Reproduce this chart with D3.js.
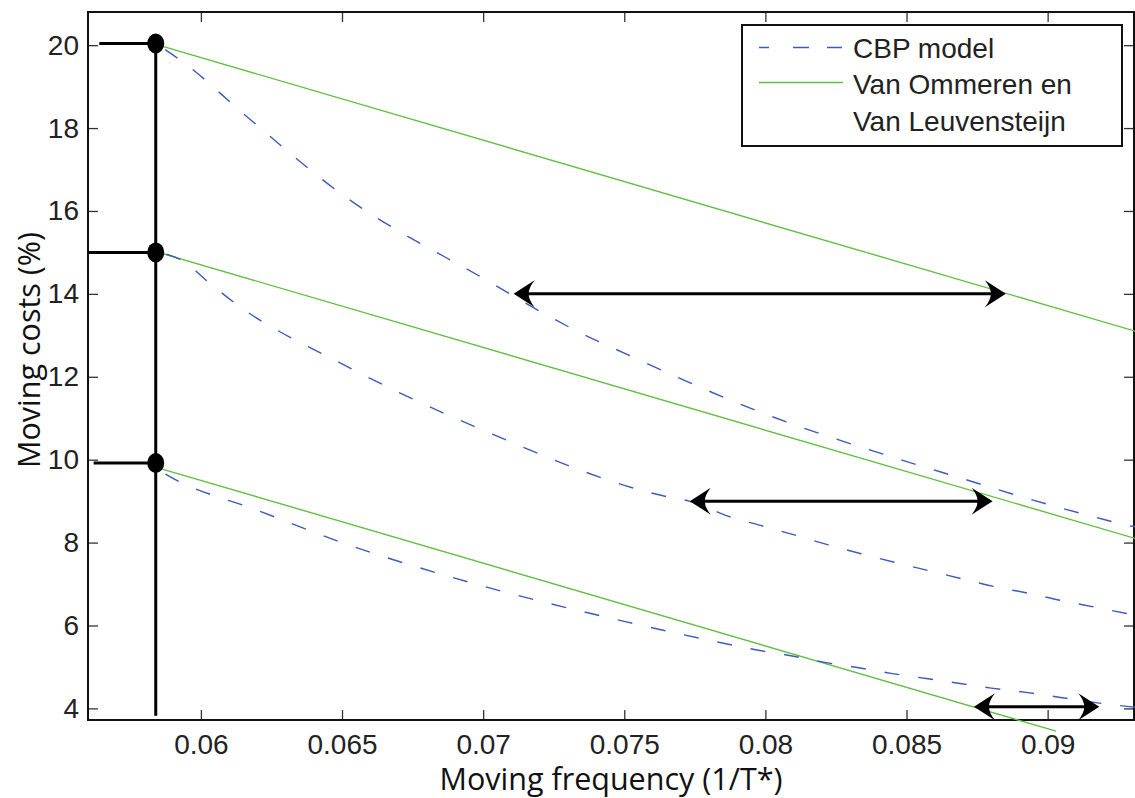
<html>

<head>
    <meta charset="utf-8">
    <style>
        body {
            margin: 0;
            background: white;
        }

        svg {
            display: block;
        }
    </style>
    <script src="https://d3js.org/d3.v7.min.js"></script>
</head>

<body>
    <svg id="Chart"></svg>
</body>

<script>
    // DATA
    let xTicks = [0.06, 0.065, 0.07, 0.075, 0.08, 0.085, 0.09]
    let yTicks = [4, 6, 8, 10, 12, 14, 16, 18, 20]

    // CBP model, one curve per starting cost level
    let cbpHigh = [[0.0585, 20.0], [0.0596, 19.47], [0.0614, 18.41], [0.065, 16.4], [0.0703, 14.26], [0.0723, 13.47],
        [0.0733, 13.11], [0.075, 12.57], [0.08, 11.1], [0.0847, 10.02], [0.087, 9.54], [0.0891, 9.1], [0.0905, 8.83],
        [0.0917, 8.61], [0.0928, 8.42], [0.0931, 8.38]]
    let cbpMid = [[0.0585, 15.0], [0.0594, 14.78], [0.0602, 14.32], [0.0612, 13.78], [0.065, 12.31], [0.07, 10.71],
        [0.0765, 9.11], [0.0773, 9.0], [0.0788, 8.61], [0.0799, 8.4], [0.0811, 8.17], [0.0822, 7.95], [0.0834, 7.73],
        [0.0846, 7.52], [0.0858, 7.32], [0.087, 7.12], [0.0881, 6.94], [0.0893, 6.78], [0.0905, 6.6], [0.0917, 6.44],
        [0.0928, 6.29], [0.0931, 6.25]]
    let cbpLow = [[0.0585, 9.75], [0.0589, 9.59], [0.062, 8.78], [0.065, 8.0], [0.07, 6.95], [0.075, 6.1], [0.0786, 5.56],
        [0.0797, 5.41], [0.0809, 5.27], [0.0821, 5.11], [0.0833, 4.98], [0.0845, 4.84], [0.0857, 4.72], [0.0869, 4.6],
        [0.088, 4.49], [0.0893, 4.38], [0.0904, 4.27], [0.0917, 4.14], [0.0928, 4.05], [0.0931, 4.03]]

    // Van Ommeren en Van Leuvensteijn (straight lines)
    let vomHigh = [[0.0585, 20.0], [0.0931, 13.1]]
    let vomMid = [[0.0585, 15.0], [0.0931, 8.1]]
    let vomLow = [[0.0586, 9.78], [0.0903, 3.45]]

    // starting points (1/T*, cost) and reference lines
    let startX = 0.0584
    let startCosts = [20.04, 15.0, 9.92]
    let guideStartX = [0.0564, 0.056, 0.0562]
    let guideBottom = 3.82

    // horizontal double arrows: [from, to, cost]
    let arrows = [[0.07108, 0.08852, 14.0], [0.07732, 0.08805, 9.0], [0.08739, 0.09183, 4.04]]

    let legendNames = ["CBP model", "Van Ommeren en", "Van Leuvensteijn"]

    let blue = "#3b5bbe"
    let green = "#62c040"

    drawChart()

    function getConfig() {
        let width = 1135
        let height = 798
        let margin = { top: 12, bottom: 78, left: 88, right: 1 }
        let bodyWidth = width - margin.left - margin.right
        let bodyHeight = height - margin.top - margin.bottom
        let container = d3.select("#Chart")
            .attr("width", width)
            .attr("height", height)
        return { width, height, margin, bodyWidth, bodyHeight, container }
    }

    function getScales(config) {
        let { bodyWidth, bodyHeight } = config
        let xScale = d3.scaleLinear()
            .domain([0.056, 0.09306])
            .range([0, bodyWidth])
        let yScale = d3.scaleLinear()
            .domain([3.72, 20.8])
            .range([bodyHeight, 0])
        return { xScale, yScale }
    }

    function drawChart() {
        let config = getConfig()
        let scales = getScales(config)
        let { margin, container } = config
        let body = container.append("g")
            .attr("transform", `translate(${margin.left},${margin.top})`)

        drawAxes(body, scales, config)
        drawCurves(body, scales)
        drawGuides(body, scales)
        drawArrows(body, scales)
        drawLegend(container)
        drawLabels(container, config)
    }

    function drawAxes(body, scales, config) {
        let { xScale, yScale } = scales
        let { bodyWidth, bodyHeight } = config

        let styleAxis = g => {
            g.select(".domain").remove()
            g.selectAll(".tick line").attr("stroke", "#333").attr("stroke-width", 1.3)
            g.selectAll("text")
                .attr("font-family", "'Liberation Sans', Arial, Helvetica, sans-serif")
                .attr("font-size", 28)
                .attr("fill", "#222")
        }

        body.append("g")
            .attr("transform", `translate(0,${bodyHeight})`)
            .call(d3.axisBottom(xScale).tickValues(xTicks).tickFormat(d => String(d))
                .tickSizeInner(-10).tickSizeOuter(0).tickPadding(14))
            .call(styleAxis)

        body.append("g")
            .call(d3.axisTop(xScale).tickValues(xTicks).tickFormat("")
                .tickSizeInner(-10).tickSizeOuter(0))
            .call(styleAxis)

        body.append("g")
            .call(d3.axisLeft(yScale).tickValues(yTicks).tickFormat(d => String(d))
                .tickSizeInner(-10).tickSizeOuter(0).tickPadding(9))
            .call(styleAxis)

        body.append("g")
            .attr("transform", `translate(${bodyWidth},0)`)
            .call(d3.axisRight(yScale).tickValues(yTicks).tickFormat("")
                .tickSizeInner(-10).tickSizeOuter(0))
            .call(styleAxis)

        body.append("rect")
            .attr("width", bodyWidth)
            .attr("height", bodyHeight)
            .attr("fill", "none")
            .attr("stroke", "#111")
            .attr("stroke-width", 2)
    }

    function drawCurves(body, scales) {
        let { xScale, yScale } = scales
        let line = d3.line()
            .x(d => xScale(d[0]))
            .y(d => yScale(d[1]))
            .curve(d3.curveMonotoneX)

        body.selectAll(".vom")
            .data([vomHigh, vomMid, vomLow])
            .enter().append("path")
            .attr("class", "vom")
            .attr("d", line)
            .attr("fill", "none")
            .attr("stroke", green)
            .attr("stroke-width", 1.4)

        body.selectAll(".cbp")
            .data([cbpHigh, cbpMid, cbpLow])
            .enter().append("path")
            .attr("class", "cbp")
            .attr("d", line)
            .attr("fill", "none")
            .attr("stroke", blue)
            .attr("stroke-width", 1.4)
            .attr("stroke-dasharray", "15,19")
            .attr("stroke-dashoffset", -8)
    }

    function drawGuides(body, scales) {
        let { xScale, yScale } = scales

        body.append("line")
            .attr("x1", xScale(startX))
            .attr("x2", xScale(startX))
            .attr("y1", yScale(startCosts[0]))
            .attr("y2", yScale(guideBottom))
            .attr("stroke", "#000")
            .attr("stroke-width", 3)

        body.selectAll(".guide")
            .data(startCosts)
            .enter().append("line")
            .attr("class", "guide")
            .attr("x1", (d, i) => xScale(guideStartX[i]))
            .attr("x2", xScale(startX))
            .attr("y1", d => yScale(d))
            .attr("y2", d => yScale(d))
            .attr("stroke", "#000")
            .attr("stroke-width", 3)

        body.selectAll(".start")
            .data(startCosts)
            .enter().append("ellipse")
            .attr("class", "start")
            .attr("cx", xScale(startX))
            .attr("cy", d => yScale(d))
            .attr("rx", 8.5)
            .attr("ry", 10)
            .attr("fill", "#000")
    }

    function arrowHead(x, y, dir) {
        // stealth-style arrow head pointing in direction dir (+1 right, -1 left)
        let len = 21, half = 13.5, notch = 15
        let bx = x - dir * len
        let nx = x - dir * notch
        return `M${x},${y}` +
            `L${bx},${y - half}` +
            `Q${nx},${y - 6} ${nx},${y}` +
            `Q${nx},${y + 6} ${bx},${y + half}Z`
    }

    function drawArrows(body, scales) {
        let { xScale, yScale } = scales
        let g = body.selectAll(".arrow")
            .data(arrows)
            .enter().append("g")
            .attr("class", "arrow")

        g.append("line")
            .attr("x1", d => xScale(d[0]) + 12)
            .attr("x2", d => xScale(d[1]) - 12)
            .attr("y1", d => yScale(d[2]))
            .attr("y2", d => yScale(d[2]))
            .attr("stroke", "#000")
            .attr("stroke-width", 3)

        g.append("path")
            .attr("d", d => arrowHead(xScale(d[0]), yScale(d[2]), -1))
            .attr("fill", "#000")
        g.append("path")
            .attr("d", d => arrowHead(xScale(d[1]), yScale(d[2]), 1))
            .attr("fill", "#000")
    }

    function drawLegend(container) {
        let legend = container.append("g")
        legend.append("rect")
            .attr("x", 742)
            .attr("y", 25)
            .attr("width", 380)
            .attr("height", 121)
            .attr("fill", "white")
            .attr("stroke", "#111")
            .attr("stroke-width", 2)

        legend.append("line")
            .attr("x1", 759).attr("x2", 843)
            .attr("y1", 47.5).attr("y2", 47.5)
            .attr("stroke", blue)
            .attr("stroke-width", 1.4)
            .attr("stroke-dasharray", "10,24,16,18,15")
        legend.append("line")
            .attr("x1", 759).attr("x2", 843)
            .attr("y1", 82.5).attr("y2", 82.5)
            .attr("stroke", green)
            .attr("stroke-width", 1.4)

        legend.selectAll("text")
            .data(legendNames)
            .enter().append("text")
            .attr("x", 853)
            .attr("y", (d, i) => [58, 93.5, 131][i])
            .attr("font-family", "'Liberation Sans', Arial, Helvetica, sans-serif")
            .attr("font-size", 28)
            .attr("fill", "#222")
            .text(d => d)
    }

    function drawLabels(container, config) {
        let { margin, bodyWidth } = config
        container.append("text")
            .attr("x", margin.left + bodyWidth / 2)
            .attr("y", 790)
            .attr("text-anchor", "middle")
            .attr("font-family", "'Open Sans', 'Noto Sans', sans-serif")
            .attr("font-size", 30.5)
            .attr("fill", "#111")
            .text("Moving frequency (1/T*)")

        container.append("text")
            .attr("transform", "translate(40,350) rotate(-90)")
            .attr("text-anchor", "middle")
            .attr("font-family", "'Open Sans', 'Noto Sans', sans-serif")
            .attr("font-size", 30.5)
            .attr("fill", "#111")
            .text("Moving costs (%)")
    }
</script>

</html>
